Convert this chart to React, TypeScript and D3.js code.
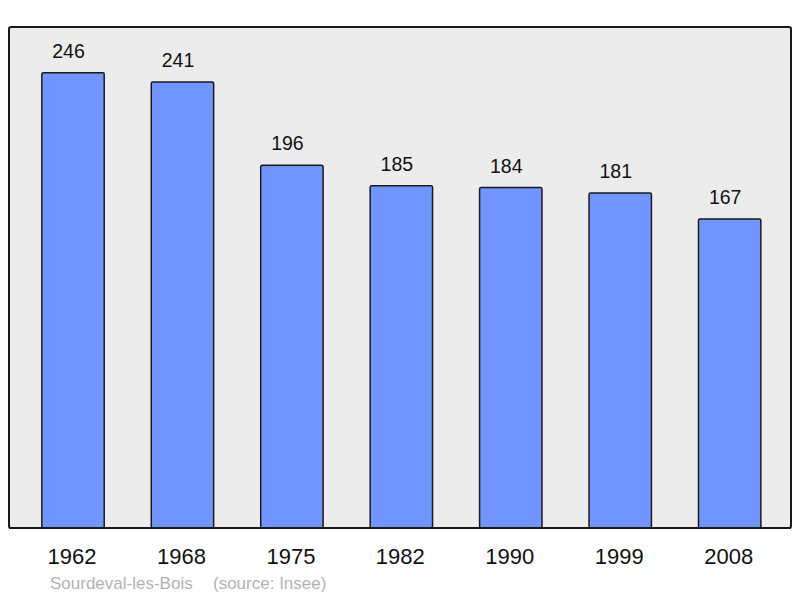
import { useEffect, useRef } from 'react';
import * as d3 from 'd3';

const years = ['1962', '1968', '1975', '1982', '1990', '1999', '2008'];
const population = [246, 241, 196, 185, 184, 181, 167];
const commune = 'Sourdeval-les-Bois';
const source = '(source: Insee)';

const W = 800;
const H = 598;

const App = () => {
  const ref = useRef<SVGSVGElement | null>(null);

  useEffect(() => {
    const svg = d3.select(ref.current);
    svg.selectAll('*').remove();

    const font = '"Liberation Sans", Arial, sans-serif';
    const baseY = 528;

    // frame
    svg
      .append('rect')
      .attr('x', 9)
      .attr('y', 27)
      .attr('width', 782)
      .attr('height', 501)
      .attr('rx', 2)
      .attr('fill', '#ececec')
      .attr('stroke', '#1a1a1a')
      .attr('stroke-width', 2);

    const x = d3
      .scaleBand<string>()
      .domain(years)
      .range([18.3, 784.4])
      .paddingInner(0.43)
      .paddingOuter(0.215);

    const y = d3.scaleLinear().domain([0, 246]).range([baseY, 72.8]);

    const data = years.map((yr, i) => ({ yr, v: population[i] }));

    svg
      .selectAll('rect.bar')
      .data(data)
      .enter()
      .append('rect')
      .attr('class', 'bar')
      .attr('x', (d) => x(d.yr)!)
      .attr('y', (d) => y(d.v))
      .attr('width', x.bandwidth())
      .attr('height', (d) => baseY - y(d.v))
      .attr('rx', 1.5)
      .attr('fill', '#7095ff')
      .attr('stroke', '#1a1a1a')
      .attr('stroke-width', 1.5);

    // redraw bottom frame edge over the bars
    svg
      .append('line')
      .attr('x1', 9)
      .attr('x2', 791)
      .attr('y1', baseY)
      .attr('y2', baseY)
      .attr('stroke', '#1a1a1a')
      .attr('stroke-width', 2);

    svg
      .selectAll('text.val')
      .data(data)
      .enter()
      .append('text')
      .attr('class', 'val')
      .attr('x', (d) => x(d.yr)! + x.bandwidth() / 2 - 4.5)
      .attr('y', (d) => y(d.v) - 15)
      .attr('text-anchor', 'middle')
      .style('font-family', font)
      .style('font-size', '19.5px')
      .attr('fill', '#111')
      .text((d) => d.v);

    svg
      .selectAll('text.year')
      .data(years)
      .enter()
      .append('text')
      .attr('class', 'year')
      .attr('x', (d) => x(d)! + x.bandwidth() / 2 - 1)
      .attr('y', 564)
      .attr('text-anchor', 'middle')
      .style('font-family', font)
      .style('font-size', '22px')
      .attr('fill', '#111')
      .text((d) => d);

    svg
      .append('text')
      .attr('x', 50)
      .attr('y', 589)
      .style('font-family', font)
      .style('font-size', '17px')
      .attr('fill', '#b3b3b3')
      .text(commune);

    svg
      .append('text')
      .attr('x', 213)
      .attr('y', 589)
      .style('font-family', font)
      .style('font-size', '17px')
      .attr('fill', '#b3b3b3')
      .text(source);
  }, []);

  return (
    <svg
      ref={ref}
      width={W}
      height={H}
      style={{ position: 'absolute', left: 0, top: 0, background: '#fff' }}
    />
  );
};

export default App;
